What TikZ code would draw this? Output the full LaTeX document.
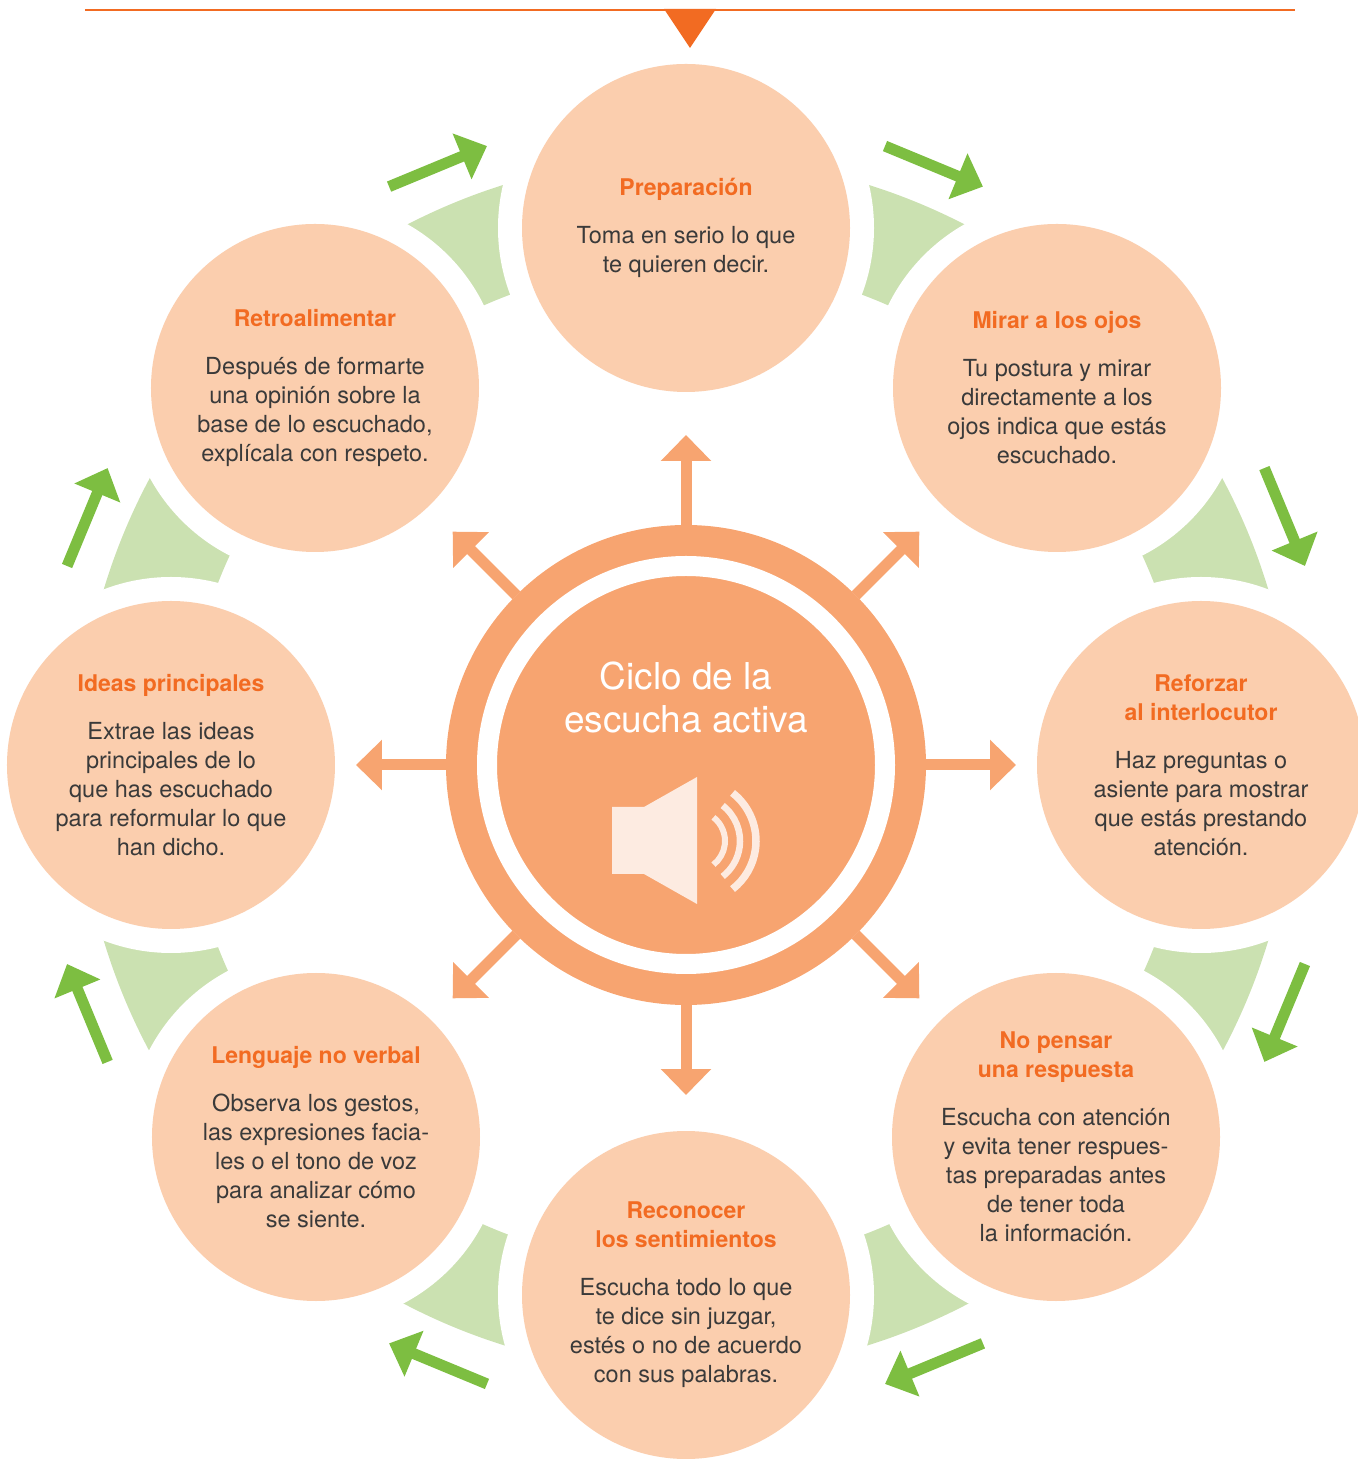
\documentclass[tikz,border=0pt]{standalone}
\usepackage{fontspec}
\setmainfont{TeX Gyre Heros}
\usetikzlibrary{arrows.meta,calc}
\pgfdeclarelayer{background}
\pgfsetlayers{background,main}
\definecolor{peach}{HTML}{FBCEAE}
\definecolor{hubcolor}{HTML}{F7A470}
\definecolor{titleorange}{HTML}{F26B22}
\definecolor{bodygray}{HTML}{3A3A3A}
\definecolor{wedgegreen}{HTML}{CBE1B1}
\definecolor{arrowgreen}{HTML}{7DBE41}
\definecolor{speaker}{HTML}{FDEBE1}
\newcommand{\steptitle}[1]{{\color{titleorange}\fontsize{11.5}{14}\bfseries #1}}
\tikzset{
  stepcircle/.style={circle, fill=peach, minimum size=164pt, inner sep=0pt, outer sep=0pt,
    align=center, text=bodygray, font=\fontsize{11.75}{14.5}\selectfont},
  ray/.style={hubcolor, line width=5.5pt, -{Triangle[width=24.5pt,length=13pt]}},
  flow/.style={arrowgreen, line width=5.5pt, -{Triangle[width=24pt,length=13.5pt]}},
}
\begin{document}
\begin{tikzpicture}[x=0.5pt,y=0.5pt]
\useasboundingbox (-686,-694) rectangle (671,765);

% header rule
\draw[titleorange, line width=1pt] (-601,755) -- (609,755);
\fill[titleorange] (-22,756) -- (30,756) -- (4,717) -- cycle;

% hub
\node[circle, fill=hubcolor, minimum size=240pt, inner sep=0pt, outer sep=0pt] (hub) at (0,0) {};
\draw[white, line width=10pt] (hub.center) circle (199);
\node[align=center, text=white, font=\fontsize{18.5}{21.5}\selectfont] (hubtext) at (0,68) {Ciclo de la\\escucha activa};
\fill[speaker] (-74,-42) -- (-42,-42) -- (11,-12) -- (11,-139) -- (-42,-109) -- (-74,-109) -- cycle;
\foreach \r/\w in {30/3pt,45/3.25pt,61/3.75pt}
  \draw[speaker, line width=\w] ($(9,-76)+(52:\r)$) arc (52:-52:\r);
\foreach \a in {0,45,...,315}
  \draw[ray] (hub.\a) -- (\a:330);

% steps
\node[stepcircle] (prep) at (0,537) {\steptitle{Preparación}\\[9.5pt]
  Toma en serio lo que\\te quieren decir.};
\node[stepcircle] (mirar) at (371,377) {\steptitle{Mirar a los ojos}\\[9.5pt]
  Tu postura y mirar\\directamente a los\\ojos indica que estás\\escuchado.};
\node[stepcircle] (reforzar) at (515,0) {\steptitle{Reforzar}\\\steptitle{al interlocutor}\\[9.5pt]
  Haz preguntas o\\asiente para mostrar\\que estás prestando\\atención.};
\node[stepcircle] (nopensar) at (370,-372) {\steptitle{No pensar}\\\steptitle{una respuesta}\\[9.5pt]
  Escucha con atención\\y evita tener respues-\\tas preparadas antes\\de tener toda\\la información.};
\node[stepcircle] (reconocer) at (0,-530) {\steptitle{Reconocer}\\\steptitle{los sentimientos}\\[9.5pt]
  Escucha todo lo que\\te dice sin juzgar,\\estés o no de acuerdo\\con sus palabras.};
\node[stepcircle] (lenguaje) at (-370,-372) {\steptitle{Lenguaje no verbal}\\[9.5pt]
  Observa los gestos,\\las expresiones facia-\\les o el tono de voz\\para analizar cómo\\se siente.};
\node[stepcircle] (ideas) at (-515,0) {\steptitle{Ideas principales}\\[9.5pt]
  Extrae las ideas\\principales de lo\\que has escuchado\\para reformular lo que\\han dicho.};
\node[stepcircle] (retro) at (-371,377) {\steptitle{Retroalimentar}\\[9.5pt]
  Después de formarte\\una opinión sobre la\\base de lo escuchado,\\explícala con respeto.};

% flow arrows
\foreach \a in {22.5,67.5,...,337.5}{
  \coordinate (ga) at ($(\a:648)+(\a+90:53)$);
  \coordinate (gb) at ($(\a:648)+(\a-90:53)$);
  \draw[flow] (ga) -- (gb);
}

% wedges
\begin{pgfonlayer}{background}
  \fill[wedgegreen, even odd rule] (0,0) circle (608) (0,0) circle (502);
  \foreach \n in {prep,mirar,reforzar,nopensar,reconocer,lenguaje,ideas,retro}
    \fill[white] (\n.center) circle (188);
\end{pgfonlayer}
\end{tikzpicture}
\end{document}
